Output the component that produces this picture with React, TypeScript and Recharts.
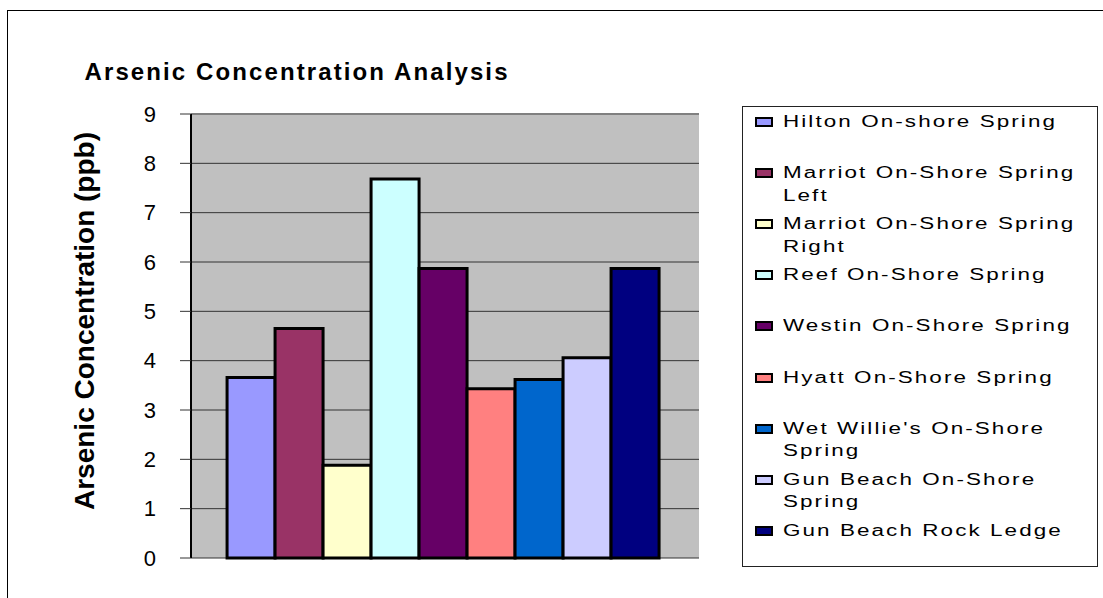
import React from 'react';
import {
  BarChart, Bar, XAxis, YAxis, CartesianGrid, Legend, ReferenceLine
} from 'recharts';

// sampling sites, one bar each
const sites = [
  'Hilton On-shore Spring',
  'Marriot On-Shore Spring Left',
  'Marriot On-Shore Spring Right',
  'Reef On-Shore Spring',
  'Westin On-Shore Spring',
  'Hyatt On-Shore Spring',
  "Wet Willie's On-Shore Spring",
  'Gun Beach On-Shore Spring',
  'Gun Beach Rock Ledge',
];

const seriesKeys = ['s1', 's2', 's3', 's4', 's5', 's6', 's7', 's8', 's9'];

// arsenic, ppb
const arsenic = [3.66, 4.65, 1.88, 7.68, 5.87, 3.43, 3.62, 4.06, 5.87];

const colors = [
  '#9999FF', '#993366', '#FFFFCC', '#CCFFFF', '#660066',
  '#FF8080', '#0066CC', '#CCCCFF', '#000080',
];

const yTicks = [0, 1, 2, 3, 4, 5, 6, 7, 8, 9];

const FONT = '"Liberation Sans", Arial, sans-serif';

const row: Record<string, string | number> = { name: 'Arsenic' };
seriesKeys.forEach((k, i) => { row[k] = arsenic[i]; });
const data = [row];

const LegendBox = () => (
  <div style={{ position: 'relative', width: '100%', height: '100%', fontFamily: FONT }}>
    {sites.map((s, i) => (
      <div
        key={s}
        style={{ position: 'absolute', left: 0, top: 4 + i * 51.1, width: '100%' }}
      >
        <div
          style={{
            position: 'absolute', left: 12, top: 6, width: 18, height: 10,
            boxSizing: 'border-box', border: '2px solid #000', background: colors[i],
          }}
        />
        <div
          style={{
            position: 'absolute', left: 40, top: 0, width: 222,
            fontSize: 16, lineHeight: '22.5px', letterSpacing: 1.5, color: '#000',
            transform: 'scaleX(1.4)', transformOrigin: 'left top', textAlign: 'left',
          }}
        >
          {s}
        </div>
      </div>
    ))}
  </div>
);

export default function App() {
  return (
    <div
      style={{
        position: 'fixed', left: 0, top: 0, width: 1103, height: 598,
        overflow: 'hidden', background: '#fff',
      }}
    >
      {/* outer chart frame */}
      <div
        style={{
          position: 'absolute', left: 7, top: 10, width: 1200, height: 700,
          border: '1px solid #000',
        }}
      />
      <div style={{ position: 'absolute', left: 0, top: 0 }}>
        <BarChart
          width={1103}
          height={598}
          data={data}
          margin={{ top: 114, right: 404, bottom: 40, left: 91 }}
          barCategoryGap="7.1%"
          barGap={0}
        >
          <CartesianGrid vertical={false} fill="#C0C0C0" stroke="#333" strokeWidth={1} />
          <XAxis dataKey="name" tick={false} tickLine={false} height={0}
            axisLine={{ stroke: '#808080', strokeWidth: 2 }} />
          <YAxis
            width={100}
            domain={[0, 9]}
            ticks={yTicks}
            interval={0}
            tickSize={11}
            tickMargin={24}
            tick={{ fill: '#000', fontSize: 22, fontFamily: FONT }}
            tickLine={{ stroke: '#333', strokeWidth: 1 }}
            axisLine={{ stroke: '#000', strokeWidth: 2 }}
          />
          <YAxis yAxisId="edge" orientation="right" width={0} domain={[0, 9]}
            tick={false} tickLine={false}
            axisLine={{ stroke: '#808080', strokeWidth: 3 }} />
          <ReferenceLine y={9} stroke="#808080" strokeWidth={2} />
          {seriesKeys.map((k, i) => (
            <Bar
              key={k}
              dataKey={k}
              name={sites[i]}
              fill={colors[i]}
              stroke="#000"
              strokeWidth={3}
              isAnimationActive={false}
            />
          ))}
          <Legend
            layout="horizontal"
            verticalAlign="middle"
            align="center"
            content={() => <LegendBox />}
            wrapperStyle={{
              position: 'absolute', left: 742, top: 106, width: 356, height: 461,
              border: '1px solid #222', background: '#fff', boxSizing: 'border-box',
            }}
          />
        </BarChart>
      </div>
      <svg
        width={1103}
        height={598}
        style={{ position: 'absolute', left: 0, top: 0, pointerEvents: 'none' }}
      >
        <text
          x={296} y={71} textAnchor="middle" dominantBaseline="central"
          fontFamily={FONT} fontWeight="bold" fontSize={24}
          textLength={423} lengthAdjust="spacing" fill="#000"
        >
          Arsenic Concentration Analysis
        </text>
        <text
          x={0} y={0} transform="translate(85 321) rotate(-90)"
          textAnchor="middle" dominantBaseline="central"
          fontFamily={FONT} fontWeight="bold" fontSize={27}
          textLength={378} lengthAdjust="spacingAndGlyphs" fill="#000"
        >
          Arsenic Concentration (ppb)
        </text>
      </svg>
    </div>
  );
}
